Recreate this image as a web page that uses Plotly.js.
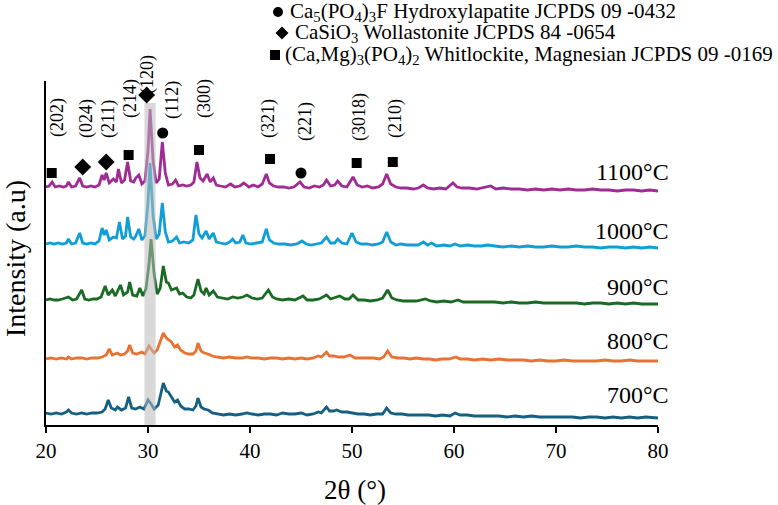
<!DOCTYPE html>
<html>
<head>
<meta charset="utf-8">
<script src="https://cdn.plot.ly/plotly-3.0.1.min.js"></script>
<style>html,body{margin:0;padding:0;background:#fff}#chart{width:778px;height:505px}</style>
</head>
<body>
<div id="chart"></div>
<script>
// ---------- DATA (2θ in degrees, intensity in arbitrary units) ----------
const pattern700 = [[20.0,5],[20.5,4],[21.0,5],[21.5,4],[22.0,6],[22.2,8],[22.5,5],[23.0,4],[23.5,5],[24.0,4],[24.5,5],[25.0,5],[25.5,6],[25.8,9],[26.1,18],[26.4,10],[26.8,8],[27.0,11],[27.4,8],[27.8,10],[28.1,21],[28.4,10],[28.8,9],[29.2,11],[29.6,9],[30.0,18],[30.3,14],[30.6,9],[31.0,13],[31.2,22],[31.5,35],[31.8,27],[32.0,26],[32.3,21],[32.6,16],[32.9,18],[33.2,12],[33.6,9],[34.0,9],[34.4,8],[34.7,12],[34.9,20],[35.2,11],[35.5,9],[35.9,8],[36.3,5],[36.8,4],[37.4,3],[38.0,4],[38.6,3],[39.2,4],[39.7,5],[40.2,4],[40.8,3],[41.4,4],[42.0,4],[42.6,3],[43.2,5],[43.8,4],[44.4,4],[45.0,5],[45.6,3],[46.2,4],[46.7,6],[47.0,5],[47.5,11],[47.8,7],[48.2,7],[48.5,8],[49.0,6],[49.5,6],[50.0,5],[50.6,4],[51.2,4],[51.8,3],[52.4,4],[53.0,4],[53.4,10],[53.8,5],[54.3,4],[54.9,4],[55.5,3],[56.1,3],[56.8,3],[57.5,3],[58.2,2],[58.9,3],[59.6,2],[60.1,5],[60.6,3],[61.3,3],[62.0,2],[62.8,2],[63.6,2],[64.4,2],[65.2,1],[66.0,2],[66.8,1],[67.6,2],[68.4,1],[69.2,1],[70.0,1],[70.8,1],[71.6,1],[72.4,0],[73.2,1],[74.0,1],[74.8,0],[75.6,1],[76.4,0],[77.2,1],[78.0,0],[78.8,1],[79.6,0],[80.0,0]];

const pattern800 = [[20.0,3],[20.5,4],[21.0,3],[21.5,4],[22.0,3],[22.2,5],[22.5,3],[23.0,4],[23.5,4],[24.0,3],[24.5,4],[25.0,4],[25.5,5],[25.9,7],[26.2,13],[26.5,7],[27.0,9],[27.3,7],[27.7,8],[28.0,11],[28.2,17],[28.5,9],[28.9,8],[29.4,10],[29.7,8],[30.1,16],[30.3,13],[30.6,9],[30.9,12],[31.2,20],[31.5,29],[31.8,24],[32.0,22],[32.3,20],[32.6,15],[32.9,17],[33.2,12],[33.6,9],[34.0,8],[34.4,8],[34.7,11],[34.9,19],[35.2,11],[35.5,9],[35.9,8],[36.3,6],[36.8,5],[37.4,4],[38.0,5],[38.6,4],[39.2,4],[39.7,5],[40.2,4],[40.8,4],[41.4,3],[42.0,4],[42.6,4],[43.2,3],[43.8,4],[44.4,3],[45.0,4],[45.6,3],[46.2,4],[46.7,6],[47.0,5],[47.5,10],[47.8,6],[48.2,6],[48.7,5],[49.2,5],[49.8,7],[50.3,4],[50.9,4],[51.5,4],[52.1,4],[52.7,3],[53.1,5],[53.5,11],[53.9,5],[54.5,4],[55.1,4],[55.7,3],[56.3,4],[57.0,3],[57.6,3],[58.2,2],[58.8,3],[59.5,3],[60.2,5],[60.6,3],[61.3,3],[62.0,2],[62.8,3],[63.6,2],[64.4,3],[65.2,2],[66.0,2],[66.8,2],[67.6,1],[68.4,2],[69.2,1],[70.0,1],[70.8,2],[71.6,1],[72.4,1],[73.2,1],[74.0,1],[74.8,2],[75.6,1],[76.4,1],[77.2,2],[78.0,1],[78.8,1],[79.6,1],[80.0,1]];

const pattern900 = [[20.0,4],[20.4,5],[20.8,4],[21.2,4],[21.6,5],[22.2,7],[22.6,4],[23.0,5],[23.5,14],[23.8,5],[24.2,4],[24.6,5],[25.0,5],[25.4,7],[25.8,18],[26.1,9],[26.5,14],[26.8,8],[27.3,19],[27.6,9],[28.0,12],[28.2,22],[28.5,9],[28.9,8],[29.2,16],[29.5,8],[29.8,15],[30.1,40],[30.3,65],[30.6,30],[30.9,10],[31.2,16],[31.5,38],[31.8,22],[32.0,21],[32.3,14],[32.8,16],[33.1,10],[33.4,11],[33.8,7],[34.2,6],[34.5,9],[34.9,25],[35.2,13],[35.5,10],[35.7,16],[36.0,9],[36.4,13],[36.8,7],[37.3,6],[37.8,5],[38.3,7],[38.8,6],[39.3,7],[39.7,9],[40.2,6],[40.7,5],[41.2,6],[41.8,14],[42.2,7],[42.6,5],[43.2,4],[43.8,5],[44.4,4],[45.2,8],[45.6,4],[46.2,4],[46.8,5],[47.5,9],[47.9,5],[48.3,6],[48.8,8],[49.3,5],[49.7,5],[50.1,9],[50.6,4],[51.2,4],[51.8,3],[52.5,4],[53.0,6],[53.5,14],[53.9,6],[54.4,4],[55.0,3],[55.6,3],[56.3,3],[57.2,5],[57.7,3],[58.3,2],[59.0,3],[59.7,2],[60.4,4],[60.9,2],[61.6,2],[62.4,2],[63.2,2],[64.0,2],[64.8,1],[65.6,2],[66.4,1],[67.2,1],[68.0,2],[68.8,1],[69.6,1],[70.4,1],[71.2,1],[72.0,1],[72.8,0],[73.6,1],[74.4,1],[75.2,0],[76.0,1],[76.8,0],[77.6,1],[78.4,0],[79.2,0],[80.0,0]];

const pattern1000 = [[20.0,4],[20.4,5],[20.8,4],[21.2,5],[21.6,4],[22.0,5],[22.2,9],[22.5,4],[22.9,5],[23.3,15],[23.6,5],[24.0,4],[24.4,5],[24.8,4],[25.2,7],[25.5,20],[25.7,13],[25.9,18],[26.2,8],[26.6,11],[26.9,10],[27.2,26],[27.5,9],[27.8,12],[28.0,31],[28.3,11],[28.6,9],[28.8,12],[29.1,19],[29.4,8],[29.7,12],[30.0,45],[30.2,85],[30.5,32],[30.8,9],[31.1,14],[31.4,45],[31.7,16],[32.0,6],[32.4,7],[32.8,11],[33.1,5],[33.5,6],[34.0,5],[34.4,8],[34.7,33],[35.0,14],[35.3,10],[35.7,17],[36.0,9],[36.4,15],[36.7,6],[37.1,5],[37.6,4],[38.0,6],[38.3,9],[38.6,5],[39.0,6],[39.3,13],[39.6,5],[40.1,4],[40.6,5],[41.2,6],[41.6,19],[41.9,8],[42.3,5],[42.8,4],[43.4,4],[44.0,3],[44.6,4],[45.1,7],[45.5,4],[46.0,3],[46.5,4],[47.0,5],[47.5,11],[47.9,5],[48.3,5],[48.6,9],[49.0,5],[49.5,4],[50.0,15],[50.4,6],[50.9,4],[51.5,4],[52.0,3],[52.6,4],[53.0,6],[53.4,16],[53.8,6],[54.3,3],[54.8,4],[55.4,3],[56.0,3],[56.5,3],[57.0,6],[57.4,3],[57.8,5],[58.3,2],[59.0,3],[59.6,2],[60.1,4],[60.6,2],[61.3,3],[62.0,2],[62.7,2],[63.3,3],[64.0,2],[64.8,1],[65.6,2],[66.4,1],[67.2,2],[68.0,1],[68.8,1],[69.6,2],[70.4,1],[71.2,1],[72.0,2],[72.8,1],[73.6,1],[74.4,0],[75.2,1],[76.0,1],[76.8,0],[77.6,1],[78.4,0],[79.2,1],[80.0,0]];

const pattern1100 = [[20.0,4],[20.3,5],[20.6,9],[20.9,4],[21.3,5],[21.7,4],[22.0,5],[22.2,9],[22.5,4],[22.9,5],[23.3,13],[23.6,5],[24.0,4],[24.4,5],[24.8,4],[25.2,6],[25.5,16],[25.7,11],[25.9,18],[26.2,8],[26.6,12],[26.9,9],[27.1,22],[27.4,8],[27.7,11],[28.0,29],[28.3,10],[28.6,9],[28.8,13],[29.1,16],[29.4,7],[29.7,10],[30.0,40],[30.2,82],[30.5,30],[30.8,8],[31.1,12],[31.4,49],[31.7,18],[32.0,6],[32.4,7],[32.7,11],[33.0,5],[33.4,6],[33.8,5],[34.2,6],[34.5,9],[34.8,29],[35.1,13],[35.4,10],[35.8,17],[36.1,9],[36.4,13],[36.7,6],[37.1,5],[37.6,4],[38.1,7],[38.5,4],[39.0,5],[39.4,8],[39.9,4],[40.3,6],[40.8,4],[41.2,7],[41.6,17],[41.9,8],[42.3,5],[42.8,4],[43.3,4],[43.8,3],[44.3,4],[44.9,9],[45.3,4],[45.8,3],[46.3,5],[46.8,4],[47.2,6],[47.5,11],[47.9,5],[48.3,6],[48.6,10],[49.0,5],[49.5,4],[50.1,14],[50.5,6],[51.0,4],[51.5,5],[52.0,3],[52.6,4],[53.0,7],[53.4,17],[53.8,7],[54.3,4],[54.8,3],[55.4,3],[56.0,2],[56.5,3],[57.0,6],[57.4,3],[58.0,2],[58.6,3],[59.2,2],[59.9,8],[60.3,4],[60.8,3],[61.5,3],[62.2,2],[62.8,3],[63.6,5],[64.1,2],[64.8,3],[65.6,2],[66.4,2],[67.2,1],[68.0,2],[68.8,1],[69.6,2],[70.4,1],[71.2,2],[72.0,1],[72.8,1],[73.6,2],[74.4,1],[75.2,1],[76.0,0],[76.8,1],[77.6,1],[78.4,0],[79.2,1],[80.0,0]];

const temperatures = ['700°C','800°C','900°C','1000°C','1100°C'];

// Phase reflections marked above the 1100°C pattern
const reflTheta  = [20.56, 23.6, 25.9, 28.1, 29.87, 31.44, 35.0, 41.96, 45.0, 50.46, 54.0];
const reflPhase  = ['W','Wo','Wo','W','Wo','H','W','W','H','W','W'];
const reflHkl    = ['(202)','(024)','(211)','(214)','(120)','(112)','(300)','(321)','(221)','(3018)','(210)'];
const phaseNames = {
  H:  'Ca<sub>5</sub>(PO<sub>4</sub>)<sub>3</sub>F Hydroxylapatite JCPDS 09 -0432',
  Wo: 'CaSiO<sub>3</sub> Wollastonite JCPDS 84 -0654',
  W:  '(Ca,Mg)<sub>3</sub>(PO<sub>4</sub>)<sub>2</sub> Whitlockite, Magnesian JCPDS 09 -0169'
};

// ---------- DRAWING ----------
const patterns = [pattern700, pattern800, pattern900, pattern1000, pattern1100];
const colors = ['#156082','#E97132','#196B24','#0F9ED5','#A02B93'];
const stackOffset = [7, 63, 121, 177, 234];   // vertical stacking of the patterns

const traces = patterns.map((p, i) => ({
  type: 'scatter', mode: 'lines',
  x: p.map(d => d[0]),
  y: p.map(d => d[1] + stackOffset[i]),
  line: {color: colors[i], width: 2.8, shape: 'linear'},
  name: temperatures[i], showlegend: false, hoverinfo: 'skip'
}));

// marker heights above the top pattern (symbol placement)
const reflMarkY = [252, 258, 263, 270, 330, 292, 275, 266, 252, 262, 263];
const symbolOf = {H: 'circle', Wo: 'diamond', W: 'square'};
const sizeOf = {H: 11, Wo: 13, W: 10};
traces.push({
  type: 'scatter', mode: 'markers',
  x: reflTheta, y: reflMarkY,
  marker: {color: '#000', opacity: 1, symbol: reflPhase.map(p => symbolOf[p]), size: reflPhase.map(p => sizeOf[p]), line: {width: 0}},
  showlegend: false, hoverinfo: 'skip', cliponaxis: false
});

const L = 46, T = 81, W = 612, H = 344;
const PX = px => (px - L) / W;
const PY = py => (T + H - py) / H;
const FONT = 'Liberation Serif';

const annotations = [];
// hkl labels
const hklX = [58, 86, 108, 130, 148, 172, 204, 268, 305, 360, 395];
const hklY = [118, 119, 119, 99, 75, 100, 99, 119, 122, 117, 119];
reflHkl.forEach((t, i) => annotations.push({
  xref: 'paper', yref: 'paper', x: PX(hklX[i]), y: PY(hklY[i]),
  xanchor: 'center', yanchor: 'middle', text: t, textangle: -90, showarrow: false,
  font: {family: FONT, size: 18, color: '#000'}
}));
// temperature labels
const tempY = [395, 341, 287, 231, 172];
temperatures.forEach((t, i) => annotations.push({
  xref: 'paper', yref: 'paper', x: PX(671), y: PY(tempY[i]),
  xanchor: 'right', yanchor: 'middle', text: t, showarrow: false,
  font: {family: FONT, size: 24, color: '#000'}
}));
// phase key text
[['H', 288, 12], ['Wo', 293, 33], ['W', 283, 55]].forEach(([k, x, y]) => annotations.push({
  xref: 'paper', yref: 'paper', x: PX(x), y: PY(y), xanchor: 'left', yanchor: 'middle',
  text: phaseNames[k], showarrow: false, font: {family: FONT, size: 21, color: '#000'}
}));
// axis titles
annotations.push({xref: 'paper', yref: 'paper', x: PX(355), y: PY(490), xanchor: 'center', yanchor: 'middle',
  text: '2θ (°)', showarrow: false, font: {family: FONT, size: 27, color: '#000'}});
annotations.push({xref: 'paper', yref: 'paper', x: PX(15), y: PY(259), xanchor: 'center', yanchor: 'middle',
  text: 'Intensity (a.u)', textangle: -90, showarrow: false, font: {family: FONT, size: 28, color: '#000'}});

const shapes = [
  {type: 'rect', xref: 'x', yref: 'y', x0: 29.65, x1: 30.75, y0: 0, y1: 322,
   fillcolor: 'rgba(185,185,185,0.55)', line: {width: 0}, layer: 'above'},
  // phase key symbols
  {type: 'circle', xref: 'paper', yref: 'paper', xsizemode: 'pixel', ysizemode: 'pixel',
   xanchor: PX(278), yanchor: PY(12), x0: -5, x1: 5, y0: -5, y1: 5, fillcolor: '#000', line: {width: 0}},
  {type: 'path', xref: 'paper', yref: 'paper', xsizemode: 'pixel', ysizemode: 'pixel',
   xanchor: PX(282), yanchor: PY(33), path: 'M 0 6.5 L 6.5 0 L 0 -6.5 L -6.5 0 Z', fillcolor: '#000', line: {width: 0}},
  {type: 'rect', xref: 'paper', yref: 'paper', xsizemode: 'pixel', ysizemode: 'pixel',
   xanchor: PX(275), yanchor: PY(55), x0: -5, x1: 5, y0: -5, y1: 5, fillcolor: '#000', line: {width: 0}}
];

const layout = {
  width: 778, height: 505,
  margin: {l: L, r: 778 - L - W, t: T, b: 505 - T - H, pad: 0},
  paper_bgcolor: '#fff', plot_bgcolor: '#fff',
  font: {family: FONT, color: '#000'},
  showlegend: false,
  xaxis: {range: [20, 80], dtick: 10, tick0: 20, showgrid: false, zeroline: false,
    showline: true, linecolor: '#000', linewidth: 2, ticks: 'outside', ticklen: 6, tickwidth: 1.5, tickcolor: '#000',
    tickfont: {family: FONT, size: 21, color: '#000'}, fixedrange: true},
  yaxis: {range: [0, 344], showgrid: false, zeroline: false, showticklabels: false, ticks: '',
    showline: true, linecolor: '#000', linewidth: 2, fixedrange: true},
  annotations: annotations,
  shapes: shapes
};

Plotly.newPlot('chart', traces, layout, {staticPlot: true, displayModeBar: false});
</script>
</body>
</html>
